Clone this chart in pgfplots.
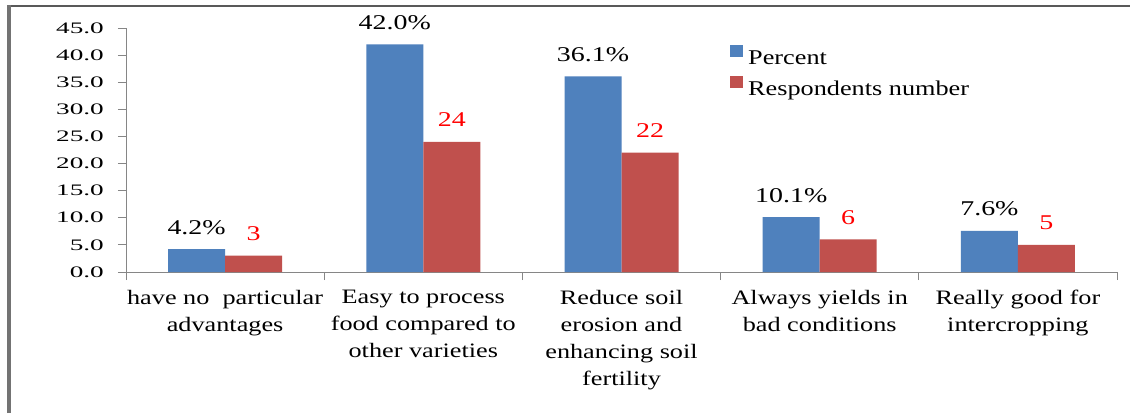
\documentclass[border=0pt]{standalone}
\usepackage{fontspec}
\setmainfont{Liberation Serif}
\newfontfamily\tickfamily{Liberation Serif}[FakeStretch=1.7]
\newfontfamily\catfamily{Liberation Serif}[FakeStretch=1.28]
\newfontfamily\datafamily{Liberation Serif}[FakeStretch=1.33]
\newfontfamily\legfamily{Liberation Serif}[FakeStretch=1.25]
\newcommand\tickfont{\tickfamily\fontsize{16}{18}\selectfont}
\newcommand\catfont{\catfamily\fontsize{20.5}{27}\selectfont}
\newcommand\datafont{\datafamily\fontsize{21}{24}\selectfont}
\newcommand\legfont{\legfamily\fontsize{21}{24}\selectfont}
\usepackage{pgfplots}
\pgfplotsset{compat=1.18}
\definecolor{barblue}{HTML}{4F81BD}
\definecolor{barred}{HTML}{C0504D}
\definecolor{axgray}{HTML}{868686}
\begin{document}
\begin{tikzpicture}
\useasboundingbox (0pt,0pt) rectangle (1130pt,413pt);
\fill[white] (0pt,0pt) rectangle (1130pt,413pt);
\draw[line width=2pt, black!65] (7pt,407pt) -- (1130pt,407pt);
\draw[line width=4pt, black!55] (8.5pt,0pt) -- (8.5pt,408pt);
\begin{axis}[
  at={(126pt,141pt)}, anchor=south west,
  scale only axis, width=991pt, height=244pt,
  xmin=-0.5, xmax=4.5, ymin=0, ymax=45,
  axis lines*=left,
  axis line style={draw=axgray, line width=1pt},
  tick style={draw=axgray, line width=1pt},
  tick align=outside,
  major tick length=8pt,
  /pgf/number format/assume math mode=true,
  ytick={0,5,...,45},
  yticklabel style={font=\tickfont, black, inner sep=0pt, xshift=-14pt,
    /pgf/number format/fixed, /pgf/number format/fixed zerofill,
    /pgf/number format/precision=1},
  xtick={-0.5,0.5,1.5,2.5,3.5,4.5},
  xticklabels={,,,,,},
  extra x ticks={0,1,2,3,4},
  extra x tick labels={{have no\ \ particular\\advantages},
    {Easy to process\\food compared to\\other varieties},
    {Reduce soil\\erosion and\\enhancing soil\\fertility},
    {Always yields in\\bad conditions},
    {Really good for\\intercropping}},
  extra x tick style={tick style={draw=none}},
  xticklabel style={font=\catfont, black, align=center, inner sep=0pt, yshift=-10pt},
  ybar=0pt,
  bar width=0.2876,
  legend style={draw=none, fill=none, at={(0.6095,0.93)}, anchor=north west,
    inner sep=0pt, font=\legfont, row sep=8pt,
    nodes={inner sep=0pt, text height=14pt, text depth=4pt},
    /tikz/every odd column/.append style={column sep=5pt}},
  legend cell align=left,
  legend image code/.code={\fill[#1,draw=none] (0pt,2pt) rectangle (13pt,14pt);},
]
\addplot[fill=barblue, draw=none,
  nodes near coords={\pgfmathprintnumber[fixed,fixed zerofill,precision=1]{\pgfplotspointmeta}\%},
  every node near coord/.append style={font=\datafont, black, anchor=base, yshift=15pt}]
  coordinates {(0,4.2) (1,42.0) (2,36.1) (3,10.1) (4,7.6)};
\addlegendentry{Percent}
\addplot[fill=barred, draw=none,
  nodes near coords={\pgfmathprintnumber[fixed,precision=0]{\pgfplotspointmeta}},
  every node near coord/.append style={font=\datafont, red, anchor=base, yshift=15pt}]
  coordinates {(0,3) (1,24) (2,22) (3,6) (4,5)};
\addlegendentry{Respondents number}
\end{axis}
\end{tikzpicture}
\end{document}
